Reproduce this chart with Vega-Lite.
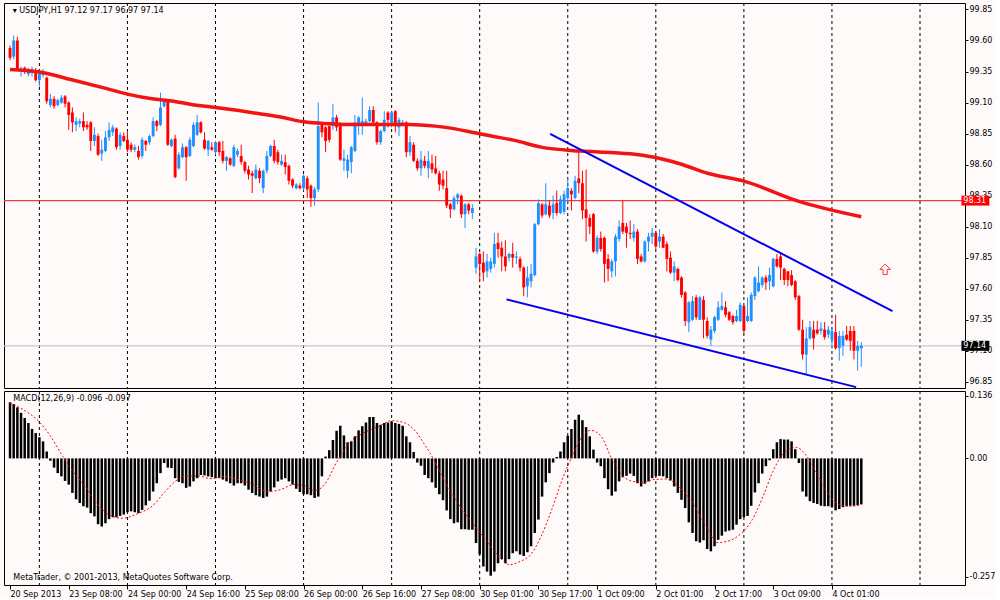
{
"$schema":"https://vega.github.io/schema/vega-lite/v6.json",
"background":"#fffafa",
"padding":{"left":2,"top":2,"right":0,"bottom":0},
"spacing":3,
"bounds":"flush",
"config":{"view":{"stroke":"#000000","strokeWidth":1,"fill":"#fffafa"},"axis":{"labelFont":"DejaVu Sans","labelFontSize":8,"labelColor":"#000000","tickColor":"#000000","domain":false,"grid":false,"title":null},"text":{"font":"DejaVu Sans"}},
"datasets":{
"grid":[{"i":8},{"i":32},{"i":56},{"i":80},{"i":104},{"i":128},{"i":152},{"i":176},{"i":200},{"i":224},{"i":248}],
"levels":[{"kind":"level","p":98.31,"t":"98.31"},{"kind":"bid","p":97.14,"t":"97.14"}],
"trend":[{"line":"u","i":147.2,"p":98.848},{"line":"u","i":240.5,"p":97.42},{"line":"l","i":135.3,"p":97.514},{"line":"l","i":230.6,"p":96.807}],
"arrow":[{"i":238.5,"p":97.756}],
"ma":[{"i":0,"p":99.367},{"i":7.65,"p":99.348},{"i":17.1,"p":99.281},{"i":26.1,"p":99.214},{"i":32.3,"p":99.166},{"i":38.7,"p":99.13},{"i":44.1,"p":99.112},{"i":49.4,"p":99.085},{"i":56.5,"p":99.058},{"i":61.9,"p":99.037},{"i":67.3,"p":99.013},{"i":73.7,"p":98.983},{"i":80,"p":98.945},{"i":87.6,"p":98.929},{"i":90.8,"p":98.924},{"i":108.8,"p":98.924},{"i":115.9,"p":98.91},{"i":120.5,"p":98.892},{"i":126.7,"p":98.856},{"i":131.2,"p":98.83},{"i":137.5,"p":98.795},{"i":144.7,"p":98.741},{"i":155.5,"p":98.709},{"i":169,"p":98.687},{"i":175.2,"p":98.661},{"i":182.5,"p":98.607},{"i":190.6,"p":98.526},{"i":200,"p":98.467},{"i":214.8,"p":98.306},{"i":232,"p":98.18}],
"candles":[
{"i":0,"o":99.54,"h":99.56,"l":99.44,"c":99.46},{"i":1,"o":99.47,"h":99.64,"l":99.45,"c":99.6},{"i":2,"o":99.6,"h":99.63,"l":99.36,"c":99.37},{"i":3,"o":99.36,"h":99.39,"l":99.31,"c":99.37},{"i":4,"o":99.38,"h":99.39,"l":99.33,"c":99.35},{"i":5,"o":99.33,"h":99.38,"l":99.31,"c":99.36},{"i":6,"o":99.34,"h":99.39,"l":99.31,"c":99.37},{"i":7,"o":99.36,"h":99.38,"l":99.27,"c":99.28},{"i":8,"o":99.28,"h":99.36,"l":99.23,"c":99.34},{"i":9,"o":99.32,"h":99.37,"l":99.3,"c":99.35},
{"i":10,"o":99.3,"h":99.31,"l":99.09,"c":99.11},{"i":11,"o":99.08,"h":99.17,"l":99.06,"c":99.13},{"i":12,"o":99.13,"h":99.15,"l":99.05,"c":99.07},{"i":13,"o":99.08,"h":99.13,"l":99.07,"c":99.12},{"i":14,"o":99.1,"h":99.16,"l":99.09,"c":99.14},{"i":15,"o":99.15,"h":99.16,"l":99.06,"c":99.09},{"i":16,"o":99.1,"h":99.11,"l":98.88,"c":99},{"i":17,"o":99.02,"h":99.06,"l":98.86,"c":98.94},{"i":18,"o":98.92,"h":98.98,"l":98.87,"c":98.95},{"i":19,"o":98.93,"h":98.97,"l":98.9,"c":98.95},
{"i":20,"o":98.95,"h":99.02,"l":98.87,"c":98.9},{"i":21,"o":98.92,"h":98.95,"l":98.88,"c":98.9},{"i":22,"o":98.94,"h":98.95,"l":98.71,"c":98.79},{"i":23,"o":98.79,"h":98.9,"l":98.75,"c":98.84},{"i":24,"o":98.83,"h":98.85,"l":98.67,"c":98.68},{"i":25,"o":98.69,"h":98.8,"l":98.63,"c":98.72},{"i":26,"o":98.71,"h":98.87,"l":98.7,"c":98.82},{"i":27,"o":98.82,"h":98.94,"l":98.79,"c":98.88},{"i":28,"o":98.86,"h":98.92,"l":98.83,"c":98.9},{"i":29,"o":98.89,"h":98.9,"l":98.72,"c":98.74},
{"i":30,"o":98.75,"h":98.86,"l":98.72,"c":98.84},{"i":31,"o":98.83,"h":98.86,"l":98.78,"c":98.79},{"i":32,"o":98.8,"h":98.87,"l":98.7,"c":98.72},{"i":33,"o":98.76,"h":98.78,"l":98.7,"c":98.72},{"i":34,"o":98.72,"h":98.76,"l":98.7,"c":98.74},{"i":35,"o":98.71,"h":98.75,"l":98.64,"c":98.66},{"i":36,"o":98.67,"h":98.82,"l":98.65,"c":98.8},{"i":37,"o":98.79,"h":98.8,"l":98.71,"c":98.76},{"i":38,"o":98.78,"h":98.84,"l":98.76,"c":98.83},{"i":39,"o":98.83,"h":98.98,"l":98.82,"c":98.95},
{"i":40,"o":98.95,"h":98.96,"l":98.87,"c":98.91},{"i":41,"o":98.92,"h":99.18,"l":98.91,"c":99.06},{"i":42,"o":99.07,"h":99.13,"l":99.06,"c":99.11},{"i":43,"o":99.11,"h":99.12,"l":98.75,"c":98.76},{"i":44,"o":98.75,"h":98.81,"l":98.74,"c":98.8},{"i":45,"o":98.81,"h":98.84,"l":98.49,"c":98.5},{"i":46,"o":98.57,"h":98.7,"l":98.56,"c":98.68},{"i":47,"o":98.66,"h":98.77,"l":98.65,"c":98.74},{"i":48,"o":98.74,"h":98.75,"l":98.47,"c":98.66},{"i":49,"o":98.67,"h":98.82,"l":98.66,"c":98.8},
{"i":50,"o":98.75,"h":98.94,"l":98.74,"c":98.92},{"i":51,"o":98.84,"h":99,"l":98.83,"c":98.94},{"i":52,"o":98.94,"h":98.95,"l":98.85,"c":98.86},{"i":53,"o":98.8,"h":98.86,"l":98.72,"c":98.73},{"i":54,"o":98.72,"h":98.8,"l":98.67,"c":98.79},{"i":55,"o":98.74,"h":98.78,"l":98.71,"c":98.72},{"i":56,"o":98.7,"h":98.79,"l":98.68,"c":98.78},{"i":57,"o":98.78,"h":98.79,"l":98.67,"c":98.7},{"i":58,"o":98.71,"h":98.79,"l":98.61,"c":98.63},{"i":59,"o":98.63,"h":98.67,"l":98.55,"c":98.66},
{"i":60,"o":98.65,"h":98.66,"l":98.59,"c":98.6},{"i":61,"o":98.59,"h":98.76,"l":98.58,"c":98.74},{"i":62,"o":98.68,"h":98.73,"l":98.66,"c":98.71},{"i":63,"o":98.67,"h":98.76,"l":98.6,"c":98.62},{"i":64,"o":98.62,"h":98.63,"l":98.53,"c":98.55},{"i":65,"o":98.56,"h":98.59,"l":98.48,"c":98.52},{"i":66,"o":98.53,"h":98.55,"l":98.37,"c":98.51},{"i":67,"o":98.49,"h":98.6,"l":98.48,"c":98.56},{"i":68,"o":98.55,"h":98.57,"l":98.45,"c":98.49},{"i":69,"o":98.41,"h":98.56,"l":98.37,"c":98.55},
{"i":70,"o":98.55,"h":98.71,"l":98.53,"c":98.67},{"i":71,"o":98.67,"h":98.76,"l":98.66,"c":98.75},{"i":72,"o":98.75,"h":98.8,"l":98.61,"c":98.63},{"i":73,"o":98.7,"h":98.72,"l":98.6,"c":98.62},{"i":74,"o":98.6,"h":98.68,"l":98.59,"c":98.63},{"i":75,"o":98.62,"h":98.68,"l":98.52,"c":98.58},{"i":76,"o":98.59,"h":98.6,"l":98.44,"c":98.47},{"i":77,"o":98.48,"h":98.49,"l":98.41,"c":98.43},{"i":78,"o":98.41,"h":98.45,"l":98.4,"c":98.44},{"i":79,"o":98.43,"h":98.45,"l":98.4,"c":98.41},
{"i":80,"o":98.41,"h":98.52,"l":98.39,"c":98.51},{"i":81,"o":98.49,"h":98.51,"l":98.33,"c":98.4},{"i":82,"o":98.43,"h":98.44,"l":98.26,"c":98.33},{"i":83,"o":98.33,"h":98.42,"l":98.27,"c":98.4},{"i":84,"o":98.4,"h":99.1,"l":98.38,"c":98.91},{"i":85,"o":98.92,"h":98.94,"l":98.82,"c":98.86},{"i":86,"o":98.9,"h":98.91,"l":98.7,"c":98.79},{"i":87,"o":98.91,"h":98.92,"l":98.78,"c":98.8},{"i":88,"o":98.91,"h":99.09,"l":98.88,"c":98.98},{"i":89,"o":98.98,"h":99,"l":98.87,"c":98.9},
{"i":90,"o":98.92,"h":98.94,"l":98.63,"c":98.64},{"i":91,"o":98.63,"h":98.72,"l":98.55,"c":98.65},{"i":92,"o":98.55,"h":98.68,"l":98.49,"c":98.64},{"i":93,"o":98.62,"h":98.75,"l":98.53,"c":98.74},{"i":94,"o":98.71,"h":99,"l":98.7,"c":98.94},{"i":95,"o":98.92,"h":98.99,"l":98.84,"c":98.98},{"i":96,"o":98.91,"h":99.14,"l":98.84,"c":98.95},{"i":97,"o":98.93,"h":98.97,"l":98.91,"c":98.95},{"i":98,"o":98.95,"h":99.07,"l":98.94,"c":99.04},{"i":99,"o":99.04,"h":99.07,"l":98.92,"c":98.94},
{"i":100,"o":98.94,"h":98.95,"l":98.76,"c":98.78},{"i":101,"o":98.78,"h":98.88,"l":98.76,"c":98.87},{"i":102,"o":98.87,"h":99.03,"l":98.86,"c":98.96},{"i":103,"o":99.02,"h":99.03,"l":98.9,"c":98.96},{"i":104,"o":98.92,"h":99.03,"l":98.9,"c":99.02},{"i":105,"o":99.03,"h":99.04,"l":98.86,"c":98.91},{"i":106,"o":98.9,"h":98.98,"l":98.83,"c":98.96},{"i":107,"o":98.93,"h":98.96,"l":98.91,"c":98.94},{"i":108,"o":98.94,"h":98.95,"l":98.66,"c":98.7},{"i":109,"o":98.7,"h":98.83,"l":98.67,"c":98.78},
{"i":110,"o":98.76,"h":98.78,"l":98.62,"c":98.63},{"i":111,"o":98.63,"h":98.65,"l":98.55,"c":98.57},{"i":112,"o":98.57,"h":98.71,"l":98.51,"c":98.64},{"i":113,"o":98.63,"h":98.67,"l":98.57,"c":98.59},{"i":114,"o":98.57,"h":98.71,"l":98.49,"c":98.63},{"i":115,"o":98.61,"h":98.68,"l":98.53,"c":98.56},{"i":116,"o":98.57,"h":98.67,"l":98.52,"c":98.53},{"i":117,"o":98.53,"h":98.55,"l":98.39,"c":98.44},{"i":118,"o":98.48,"h":98.55,"l":98.4,"c":98.43},{"i":119,"o":98.41,"h":98.55,"l":98.25,"c":98.27},
{"i":120,"o":98.28,"h":98.29,"l":98.17,"c":98.24},{"i":121,"o":98.24,"h":98.35,"l":98.23,"c":98.33},{"i":122,"o":98.33,"h":98.37,"l":98.28,"c":98.36},{"i":123,"o":98.35,"h":98.36,"l":98.17,"c":98.2},{"i":124,"o":98.2,"h":98.29,"l":98.09,"c":98.28},{"i":125,"o":98.28,"h":98.29,"l":98.2,"c":98.23},{"i":126,"o":98.21,"h":98.28,"l":98.16,"c":98.25},{"i":127,"o":97.77,"h":97.93,"l":97.72,"c":97.86},{"i":128,"o":97.88,"h":97.89,"l":97.66,"c":97.8},{"i":129,"o":97.81,"h":97.9,"l":97.66,"c":97.73},
{"i":130,"o":97.74,"h":97.88,"l":97.69,"c":97.82},{"i":131,"o":97.76,"h":97.85,"l":97.73,"c":97.82},{"i":132,"o":97.8,"h":98.05,"l":97.77,"c":97.96},{"i":133,"o":97.97,"h":98.05,"l":97.85,"c":97.92},{"i":134,"o":97.93,"h":97.98,"l":97.74,"c":97.86},{"i":135,"o":97.86,"h":97.99,"l":97.74,"c":97.78},{"i":136,"o":97.85,"h":97.89,"l":97.82,"c":97.88},{"i":137,"o":97.88,"h":97.97,"l":97.77,"c":97.85},{"i":138,"o":97.85,"h":97.9,"l":97.8,"c":97.86},{"i":139,"o":97.84,"h":97.86,"l":97.74,"c":97.77},
{"i":140,"o":97.77,"h":97.78,"l":97.54,"c":97.61},{"i":141,"o":97.62,"h":97.78,"l":97.53,"c":97.69},{"i":142,"o":97.66,"h":97.8,"l":97.61,"c":97.72},{"i":143,"o":97.71,"h":98.13,"l":97.7,"c":98.12},{"i":144,"o":98.12,"h":98.32,"l":98.11,"c":98.29},{"i":145,"o":98.28,"h":98.29,"l":98.17,"c":98.19},{"i":146,"o":98.2,"h":98.45,"l":98.19,"c":98.28},{"i":147,"o":98.27,"h":98.31,"l":98.17,"c":98.19},{"i":148,"o":98.21,"h":98.35,"l":98.16,"c":98.28},{"i":149,"o":98.29,"h":98.39,"l":98.19,"c":98.21},
{"i":150,"o":98.21,"h":98.35,"l":98.2,"c":98.32},{"i":151,"o":98.22,"h":98.39,"l":98.2,"c":98.36},{"i":152,"o":98.33,"h":98.49,"l":98.29,"c":98.41},{"i":153,"o":98.39,"h":98.41,"l":98.23,"c":98.36},{"i":154,"o":98.33,"h":98.51,"l":98.32,"c":98.47},{"i":155,"o":98.49,"h":98.72,"l":98.37,"c":98.45},{"i":156,"o":98.45,"h":98.55,"l":98.16,"c":98.23},{"i":157,"o":98.24,"h":98.56,"l":97.98,"c":98.17},{"i":158,"o":98.17,"h":98.2,"l":98.04,"c":98.1},{"i":159,"o":98.2,"h":98.21,"l":97.89,"c":97.9},
{"i":160,"o":97.9,"h":98.03,"l":97.88,"c":98.01},{"i":161,"o":98.01,"h":98.06,"l":97.9,"c":97.92},{"i":162,"o":98.01,"h":98.02,"l":97.65,"c":97.8},{"i":163,"o":97.84,"h":97.88,"l":97.66,"c":97.76},{"i":164,"o":97.74,"h":97.84,"l":97.69,"c":97.82},{"i":165,"o":97.82,"h":98.04,"l":97.7,"c":98.02},{"i":166,"o":98,"h":98.15,"l":97.98,"c":98.1},{"i":167,"o":98.13,"h":98.31,"l":98.04,"c":98.06},{"i":168,"o":98.1,"h":98.13,"l":97.93,"c":98.05},{"i":169,"o":98.05,"h":98.15,"l":98,"c":98.04},
{"i":170,"o":98.01,"h":98.12,"l":97.98,"c":98.06},{"i":171,"o":98.06,"h":98.08,"l":97.8,"c":97.84},{"i":172,"o":97.86,"h":97.88,"l":97.81,"c":97.82},{"i":173,"o":97.82,"h":97.99,"l":97.81,"c":97.98},{"i":174,"o":97.98,"h":98.05,"l":97.9,"c":98.02},{"i":175,"o":98.02,"h":98.09,"l":97.96,"c":98.05},{"i":176,"o":98.05,"h":98.06,"l":97.92,"c":97.94},{"i":177,"o":97.98,"h":98.08,"l":97.93,"c":98.02},{"i":178,"o":98.02,"h":98.04,"l":97.93,"c":97.93},{"i":179,"o":97.96,"h":97.98,"l":97.74,"c":97.84},
{"i":180,"o":97.85,"h":97.9,"l":97.72,"c":97.73},{"i":181,"o":97.73,"h":97.82,"l":97.66,"c":97.78},{"i":182,"o":97.76,"h":97.77,"l":97.66,"c":97.67},{"i":183,"o":97.69,"h":97.7,"l":97.53,"c":97.55},{"i":184,"o":97.57,"h":97.58,"l":97.3,"c":97.34},{"i":185,"o":97.33,"h":97.5,"l":97.25,"c":97.49},{"i":186,"o":97.35,"h":97.54,"l":97.34,"c":97.5},{"i":187,"o":97.53,"h":97.55,"l":97.35,"c":97.37},{"i":188,"o":97.35,"h":97.54,"l":97.35,"c":97.53},{"i":189,"o":97.51,"h":97.54,"l":97.2,"c":97.35},
{"i":190,"o":97.34,"h":97.37,"l":97.2,"c":97.22},{"i":191,"o":97.19,"h":97.3,"l":97.14,"c":97.27},{"i":192,"o":97.26,"h":97.38,"l":97.24,"c":97.37},{"i":193,"o":97.35,"h":97.5,"l":97.34,"c":97.45},{"i":194,"o":97.43,"h":97.57,"l":97.42,"c":97.46},{"i":195,"o":97.45,"h":97.5,"l":97.37,"c":97.39},{"i":196,"o":97.41,"h":97.42,"l":97.34,"c":97.35},{"i":197,"o":97.38,"h":97.39,"l":97.31,"c":97.33},{"i":198,"o":97.34,"h":97.43,"l":97.33,"c":97.38},{"i":199,"o":97.34,"h":97.49,"l":97.33,"c":97.47},
{"i":200,"o":97.46,"h":97.47,"l":97.24,"c":97.26},{"i":201,"o":97.34,"h":97.53,"l":97.33,"c":97.38},{"i":202,"o":97.34,"h":97.57,"l":97.33,"c":97.55},{"i":203,"o":97.54,"h":97.7,"l":97.51,"c":97.69},{"i":204,"o":97.58,"h":97.78,"l":97.57,"c":97.65},{"i":205,"o":97.63,"h":97.7,"l":97.61,"c":97.69},{"i":206,"o":97.69,"h":97.71,"l":97.59,"c":97.65},{"i":207,"o":97.66,"h":97.77,"l":97.59,"c":97.71},{"i":208,"o":97.62,"h":97.85,"l":97.61,"c":97.84},{"i":209,"o":97.84,"h":97.88,"l":97.77,"c":97.78},
{"i":210,"o":97.86,"h":97.88,"l":97.67,"c":97.77},{"i":211,"o":97.76,"h":97.77,"l":97.63,"c":97.67},{"i":212,"o":97.74,"h":97.74,"l":97.62,"c":97.67},{"i":213,"o":97.71,"h":97.75,"l":97.62,"c":97.63},{"i":214,"o":97.66,"h":97.67,"l":97.51,"c":97.53},{"i":215,"o":97.54,"h":97.55,"l":97.26,"c":97.27},{"i":216,"o":97.27,"h":97.35,"l":97.03,"c":97.07},{"i":217,"o":97.07,"h":97.29,"l":96.91,"c":97.2},{"i":218,"o":97.2,"h":97.34,"l":97.19,"c":97.29},{"i":219,"o":97.27,"h":97.34,"l":97.11,"c":97.2},
{"i":220,"o":97.27,"h":97.34,"l":97.23,"c":97.24},{"i":221,"o":97.26,"h":97.33,"l":97.23,"c":97.28},{"i":222,"o":97.27,"h":97.33,"l":97.19,"c":97.21},{"i":223,"o":97.23,"h":97.3,"l":97.2,"c":97.27},{"i":224,"o":97.19,"h":97.29,"l":97.12,"c":97.26},{"i":225,"o":97.25,"h":97.39,"l":97.11,"c":97.12},{"i":226,"o":97.12,"h":97.26,"l":97.02,"c":97.22},{"i":227,"o":97.14,"h":97.26,"l":97.06,"c":97.22},{"i":228,"o":97.23,"h":97.3,"l":97.18,"c":97.19},{"i":229,"o":97.26,"h":97.3,"l":97.1,"c":97.18},
{"i":230,"o":97.26,"h":97.3,"l":97.03,"c":97.1},{"i":231,"o":97.1,"h":97.18,"l":96.94,"c":97.14},{"i":232,"o":97.12,"h":97.17,"l":96.97,"c":97.14}
],
"macd":[
{"i":0,"m":0.122},{"i":1,"m":0.118},{"i":2,"m":0.111},{"i":3,"m":0.099},{"i":4,"m":0.088},{"i":5,"m":0.077},{"i":6,"m":0.064},{"i":7,"m":0.055},{"i":8,"m":0.046},{"i":9,"m":0.037},
{"i":10,"m":0.015},{"i":11,"m":-0.005},{"i":12,"m":-0.02},{"i":13,"m":-0.032},{"i":14,"m":-0.039},{"i":15,"m":-0.049},{"i":16,"m":-0.057},{"i":17,"m":-0.075},{"i":18,"m":-0.089},{"i":19,"m":-0.097},
{"i":20,"m":-0.104},{"i":21,"m":-0.107},{"i":22,"m":-0.119},{"i":23,"m":-0.126},{"i":24,"m":-0.143},{"i":25,"m":-0.148},{"i":26,"m":-0.141},{"i":27,"m":-0.132},{"i":28,"m":-0.128},{"i":29,"m":-0.128},
{"i":30,"m":-0.125},{"i":31,"m":-0.122},{"i":32,"m":-0.117},{"i":33,"m":-0.115},{"i":34,"m":-0.117},{"i":35,"m":-0.119},{"i":36,"m":-0.112},{"i":37,"m":-0.102},{"i":38,"m":-0.092},{"i":39,"m":-0.072},
{"i":40,"m":-0.054},{"i":41,"m":-0.032},{"i":42,"m":-0.01},{"i":43,"m":-0.02},{"i":44,"m":-0.021},{"i":45,"m":-0.043},{"i":46,"m":-0.051},{"i":47,"m":-0.054},{"i":48,"m":-0.064},{"i":49,"m":-0.061},
{"i":50,"m":-0.05},{"i":51,"m":-0.043},{"i":52,"m":-0.036},{"i":53,"m":-0.037},{"i":54,"m":-0.039},{"i":55,"m":-0.041},{"i":56,"m":-0.043},{"i":57,"m":-0.043},{"i":58,"m":-0.046},{"i":59,"m":-0.05},
{"i":60,"m":-0.054},{"i":61,"m":-0.059},{"i":62,"m":-0.054},{"i":63,"m":-0.054},{"i":64,"m":-0.059},{"i":65,"m":-0.068},{"i":66,"m":-0.075},{"i":67,"m":-0.08},{"i":68,"m":-0.083},{"i":69,"m":-0.086},
{"i":70,"m":-0.083},{"i":71,"m":-0.072},{"i":72,"m":-0.063},{"i":73,"m":-0.05},{"i":74,"m":-0.046},{"i":75,"m":-0.043},{"i":76,"m":-0.05},{"i":77,"m":-0.057},{"i":78,"m":-0.066},{"i":79,"m":-0.073},
{"i":80,"m":-0.078},{"i":81,"m":-0.078},{"i":82,"m":-0.08},{"i":83,"m":-0.086},{"i":84,"m":-0.083},{"i":85,"m":-0.039},{"i":86,"m":0.004},{"i":87,"m":0.018},{"i":88,"m":0.04},{"i":89,"m":0.06},
{"i":90,"m":0.071},{"i":91,"m":0.05},{"i":92,"m":0.035},{"i":93,"m":0.037},{"i":94,"m":0.048},{"i":95,"m":0.061},{"i":96,"m":0.07},{"i":97,"m":0.078},{"i":98,"m":0.09},{"i":99,"m":0.09},
{"i":100,"m":0.077},{"i":101,"m":0.073},{"i":102,"m":0.077},{"i":103,"m":0.078},{"i":104,"m":0.08},{"i":105,"m":0.077},{"i":106,"m":0.075},{"i":107,"m":0.071},{"i":108,"m":0.048},{"i":109,"m":0.035},
{"i":110,"m":0.014},{"i":111,"m":-0.009},{"i":112,"m":-0.016},{"i":113,"m":-0.036},{"i":114,"m":-0.043},{"i":115,"m":-0.052},{"i":116,"m":-0.064},{"i":117,"m":-0.078},{"i":118,"m":-0.091},{"i":119,"m":-0.113},
{"i":120,"m":-0.132},{"i":121,"m":-0.141},{"i":122,"m":-0.139},{"i":123,"m":-0.154},{"i":124,"m":-0.154},{"i":125,"m":-0.155},{"i":126,"m":-0.155},{"i":127,"m":-0.184},{"i":128,"m":-0.209},{"i":129,"m":-0.235},
{"i":130,"m":-0.246},{"i":131,"m":-0.255},{"i":132,"m":-0.246},{"i":133,"m":-0.228},{"i":134,"m":-0.219},{"i":135,"m":-0.228},{"i":136,"m":-0.219},{"i":137,"m":-0.206},{"i":138,"m":-0.202},{"i":139,"m":-0.209},
{"i":140,"m":-0.212},{"i":141,"m":-0.204},{"i":142,"m":-0.191},{"i":143,"m":-0.162},{"i":144,"m":-0.133},{"i":145,"m":-0.083},{"i":146,"m":-0.052},{"i":147,"m":-0.032},{"i":148,"m":-0.009},{"i":149,"m":0.003},
{"i":150,"m":0.015},{"i":151,"m":0.035},{"i":152,"m":0.049},{"i":153,"m":0.064},{"i":154,"m":0.084},{"i":155,"m":0.095},{"i":156,"m":0.083},{"i":157,"m":0.068},{"i":158,"m":0.048},{"i":159,"m":0.019},
{"i":160,"m":-0.009},{"i":161,"m":-0.017},{"i":162,"m":-0.043},{"i":163,"m":-0.067},{"i":164,"m":-0.081},{"i":165,"m":-0.072},{"i":166,"m":-0.05},{"i":167,"m":-0.041},{"i":168,"m":-0.038},{"i":169,"m":-0.033},
{"i":170,"m":-0.038},{"i":171,"m":-0.054},{"i":172,"m":-0.061},{"i":173,"m":-0.055},{"i":174,"m":-0.05},{"i":175,"m":-0.043},{"i":176,"m":-0.039},{"i":177,"m":-0.038},{"i":178,"m":-0.039},{"i":179,"m":-0.043},
{"i":180,"m":-0.048},{"i":181,"m":-0.061},{"i":182,"m":-0.075},{"i":183,"m":-0.09},{"i":184,"m":-0.108},{"i":185,"m":-0.139},{"i":186,"m":-0.162},{"i":187,"m":-0.18},{"i":188,"m":-0.183},{"i":189,"m":-0.178},
{"i":190,"m":-0.197},{"i":191,"m":-0.202},{"i":192,"m":-0.191},{"i":193,"m":-0.177},{"i":194,"m":-0.168},{"i":195,"m":-0.159},{"i":196,"m":-0.157},{"i":197,"m":-0.155},{"i":198,"m":-0.144},{"i":199,"m":-0.132},
{"i":200,"m":-0.128},{"i":201,"m":-0.125},{"i":202,"m":-0.103},{"i":203,"m":-0.074},{"i":204,"m":-0.054},{"i":205,"m":-0.033},{"i":206,"m":-0.017},{"i":207,"m":-0.004},{"i":208,"m":0.02},{"i":209,"m":0.035},
{"i":210,"m":0.042},{"i":211,"m":0.041},{"i":212,"m":0.041},{"i":213,"m":0.037},{"i":214,"m":0.02},{"i":215,"m":-0.01},{"i":216,"m":-0.072},{"i":217,"m":-0.083},{"i":218,"m":-0.093},{"i":219,"m":-0.097},
{"i":220,"m":-0.099},{"i":221,"m":-0.103},{"i":222,"m":-0.104},{"i":223,"m":-0.104},{"i":224,"m":-0.106},{"i":225,"m":-0.113},{"i":226,"m":-0.11},{"i":227,"m":-0.106},{"i":228,"m":-0.104},{"i":229,"m":-0.103},
{"i":230,"m":-0.103},{"i":231,"m":-0.102},{"i":232,"m":-0.1}
],
"signal":[{"i":0,"s":0.12},{"i":3.6,"s":0.106},{"i":7.9,"s":0.08},{"i":10.8,"s":0.051},{"i":14.4,"s":0.004},{"i":17.1,"s":-0.028},{"i":20.7,"s":-0.064},{"i":24.3,"s":-0.104},{"i":27.9,"s":-0.126},{"i":30.6,"s":-0.13},{"i":35.1,"s":-0.119},{"i":38.7,"s":-0.104},{"i":42.3,"s":-0.072},{"i":45,"s":-0.05},{"i":47.6,"s":-0.039},{"i":51.2,"s":-0.038},{"i":54.8,"s":-0.044},{"i":58.4,"s":-0.039},{"i":62,"s":-0.046},{"i":65.6,"s":-0.054},{"i":70.1,"s":-0.072},{"i":73.7,"s":-0.068},{"i":77.3,"s":-0.057},{"i":80,"s":-0.059},{"i":83.1,"s":-0.07},{"i":85.7,"s":-0.057},{"i":89.1,"s":-0.007},{"i":92.9,"s":0.037},{"i":96.8,"s":0.057},{"i":100.6,"s":0.07},{"i":104,"s":0.082},{"i":107.3,"s":0.078},{"i":110.2,"s":0.062},{"i":113,"s":0.03},{"i":116,"s":-0.01},{"i":118.3,"s":-0.046},{"i":121.7,"s":-0.093},{"i":124.6,"s":-0.126},{"i":127.5,"s":-0.155},{"i":130.3,"s":-0.184},{"i":133.2,"s":-0.213},{"i":136.1,"s":-0.231},{"i":139,"s":-0.224},{"i":141.9,"s":-0.209},{"i":144.7,"s":-0.17},{"i":147.6,"s":-0.112},{"i":150.5,"s":-0.046},{"i":153.4,"s":0.008},{"i":156.3,"s":0.051},{"i":158.2,"s":0.061},{"i":161.1,"s":0.048},{"i":163.9,"s":0.001},{"i":166.8,"s":-0.036},{"i":169.7,"s":-0.05},{"i":172.6,"s":-0.052},{"i":175.5,"s":-0.046},{"i":178.8,"s":-0.045},{"i":182.2,"s":-0.061},{"i":186,"s":-0.097},{"i":189.8,"s":-0.148},{"i":192.7,"s":-0.183},{"i":195.6,"s":-0.18},{"i":199.4,"s":-0.162},{"i":202.3,"s":-0.133},{"i":205.2,"s":-0.083},{"i":208.1,"s":-0.025},{"i":211,"s":0.012},{"i":214.3,"s":0.024},{"i":217.2,"s":0.004},{"i":220.6,"s":-0.043},{"i":223.4,"s":-0.083},{"i":226.3,"s":-0.101},{"i":229.2,"s":-0.104},{"i":232,"s":-0.1}]
},
"vconcat":[
{
"width":961,"height":385,
"layer":[
{"data":{"name":"grid"},"mark":{"type":"rule","color":"#000000","strokeDash":[3,3],"strokeWidth":1},
 "encoding":{"x":{"field":"i","type":"quantitative","scale":{"domain":[-0.28,258.9],"nice":false,"zero":false},"axis":null}}},
{"data":{"name":"levels"},"mark":{"type":"rule","strokeWidth":1.2},
 "encoding":{"y":{"field":"p","type":"quantitative","scale":{"domain":[96.8,99.902],"nice":false,"zero":false},
   "axis":{"orient":"right","values":[99.85,99.6,99.35,99.1,98.85,98.6,98.35,98.1,97.85,97.6,97.35,97.1,96.85],"format":".2f","tickSize":3,"labelPadding":1,"title":null,"labelOverlap":false,"labelFlush":false}},
  "color":{"field":"kind","type":"nominal","scale":{"domain":["level","bid"],"range":["#f03c3c","#c8c8c8"]},"legend":null}}},
{"data":{"name":"candles"},"mark":{"type":"rule","strokeWidth":1},
 "encoding":{"x":{"field":"i","type":"quantitative","scale":{"domain":[-0.28,258.9],"nice":false,"zero":false},"axis":null},
  "y":{"field":"l","type":"quantitative","scale":{"domain":[96.8,99.902],"nice":false,"zero":false},
   "axis":{"orient":"right","values":[99.85,99.6,99.35,99.1,98.85,98.6,98.35,98.1,97.85,97.6,97.35,97.1,96.85],"format":".2f","tickSize":3,"labelPadding":1,"title":null,"labelOverlap":false,"labelFlush":false}},
  "y2":{"field":"h"},
  "color":{"condition":{"test":"datum.c >= datum.o","value":"#1e90ff"},"value":"#ff0000"}}},
{"data":{"name":"candles"},"mark":{"type":"bar","width":2.9},
 "encoding":{"x":{"field":"i","type":"quantitative","scale":{"domain":[-0.28,258.9],"nice":false,"zero":false},"axis":null},
  "y":{"field":"o","type":"quantitative","scale":{"domain":[96.8,99.902],"nice":false,"zero":false},
   "axis":{"orient":"right","values":[99.85,99.6,99.35,99.1,98.85,98.6,98.35,98.1,97.85,97.6,97.35,97.1,96.85],"format":".2f","tickSize":3,"labelPadding":1,"title":null,"labelOverlap":false,"labelFlush":false}},
  "y2":{"field":"c"},
  "color":{"condition":{"test":"datum.c >= datum.o","value":"#1e90ff"},"value":"#ff0000"}}},
{"data":{"name":"ma"},"mark":{"type":"line","color":"#f01414","strokeWidth":3.5,"interpolate":"monotone"},
 "encoding":{"x":{"field":"i","type":"quantitative","scale":{"domain":[-0.28,258.9],"nice":false,"zero":false},"axis":null},
  "y":{"field":"p","type":"quantitative","scale":{"domain":[96.8,99.902],"nice":false,"zero":false},
   "axis":{"orient":"right","values":[99.85,99.6,99.35,99.1,98.85,98.6,98.35,98.1,97.85,97.6,97.35,97.1,96.85],"format":".2f","tickSize":3,"labelPadding":1,"title":null,"labelOverlap":false,"labelFlush":false}}}},
{"data":{"name":"trend"},"mark":{"type":"line","color":"#0000ee","strokeWidth":2},
 "encoding":{"x":{"field":"i","type":"quantitative","scale":{"domain":[-0.28,258.9],"nice":false,"zero":false},"axis":null},
  "y":{"field":"p","type":"quantitative","scale":{"domain":[96.8,99.902],"nice":false,"zero":false},
   "axis":{"orient":"right","values":[99.85,99.6,99.35,99.1,98.85,98.6,98.35,98.1,97.85,97.6,97.35,97.1,96.85],"format":".2f","tickSize":3,"labelPadding":1,"title":null,"labelOverlap":false,"labelFlush":false}},
  "detail":{"field":"line"}}},
{"data":{"name":"levels"},"mark":{"type":"rule","strokeWidth":10,"strokeCap":"butt"},
 "encoding":{"x":{"datum":259.3,"type":"quantitative","scale":{"domain":[-0.28,258.9],"nice":false,"zero":false},"axis":null},
  "x2":{"datum":266.9},
  "y":{"field":"p","type":"quantitative","scale":{"domain":[96.8,99.902],"nice":false,"zero":false},
   "axis":{"orient":"right","values":[99.85,99.6,99.35,99.1,98.85,98.6,98.35,98.1,97.85,97.6,97.35,97.1,96.85],"format":".2f","tickSize":3,"labelPadding":1,"title":null,"labelOverlap":false,"labelFlush":false}},
  "stroke":{"field":"kind","type":"nominal","scale":{"domain":["level","bid"],"range":["#ff0000","#000000"]},"legend":null}}},
{"data":{"name":"levels"},"mark":{"type":"text","align":"left","baseline":"middle","color":"#ffffff","fontSize":8},
 "encoding":{"x":{"datum":259.8,"type":"quantitative","scale":{"domain":[-0.28,258.9],"nice":false,"zero":false},"axis":null},
  "y":{"field":"p","type":"quantitative","scale":{"domain":[96.8,99.902],"nice":false,"zero":false},
   "axis":{"orient":"right","values":[99.85,99.6,99.35,99.1,98.85,98.6,98.35,98.1,97.85,97.6,97.35,97.1,96.85],"format":".2f","tickSize":3,"labelPadding":1,"title":null,"labelOverlap":false,"labelFlush":false}},
  "text":{"field":"t"}}},
{"data":{"name":"arrow"},"mark":{"type":"point","shape":"M0,-1L1,0H0.4V1H-0.4V0H-1Z","filled":false,"stroke":"#ff3030","strokeWidth":1,"size":110,"opacity":1},
 "encoding":{"x":{"field":"i","type":"quantitative","scale":{"domain":[-0.28,258.9],"nice":false,"zero":false},"axis":null},
  "y":{"field":"p","type":"quantitative","scale":{"domain":[96.8,99.902],"nice":false,"zero":false},
   "axis":{"orient":"right","values":[99.85,99.6,99.35,99.1,98.85,98.6,98.35,98.1,97.85,97.6,97.35,97.1,96.85],"format":".2f","tickSize":3,"labelPadding":1,"title":null,"labelOverlap":false,"labelFlush":false}}}},
{"data":{"values":[{"t":"▾  USDJPY,H1  97.12 97.17 96.97 97.14"}]},"mark":{"type":"text","align":"left","baseline":"middle","color":"#000000","fontSize":8},
 "encoding":{"x":{"datum":0.72,"type":"quantitative","scale":{"domain":[-0.28,258.9],"nice":false,"zero":false},"axis":null},
  "y":{"datum":99.837,"type":"quantitative","scale":{"domain":[96.8,99.902],"nice":false,"zero":false},
   "axis":{"orient":"right","values":[99.85,99.6,99.35,99.1,98.85,98.6,98.35,98.1,97.85,97.6,97.35,97.1,96.85],"format":".2f","tickSize":3,"labelPadding":1,"title":null,"labelOverlap":false,"labelFlush":false}},
  "text":{"field":"t"}}}
]
},
{
"width":961,"height":194,
"layer":[
{"data":{"name":"grid"},"mark":{"type":"rule","color":"#000000","strokeDash":[3,3],"strokeWidth":1},
 "encoding":{"x":{"field":"i","type":"quantitative","scale":{"domain":[-0.28,258.9],"nice":false,"zero":false},
   "axis":{"orient":"bottom","values":[0,16,32,48,64,80,96,112,128,144,160,176,192,208,224],"labelExpr":"['20 Sep 2013','23 Sep 08:00','24 Sep 00:00','24 Sep 16:00','25 Sep 08:00','26 Sep 00:00','26 Sep 16:00','27 Sep 08:00','30 Sep 01:00','30 Sep 17:00','1 Oct 09:00','2 Oct 01:00','2 Oct 17:00','3 Oct 09:00','4 Oct 01:00'][round(datum.value/16)]","labelAlign":"left","labelBaseline":"top","tickSize":4,"labelPadding":1,"labelFlush":false,"labelOverlap":false,"labelBound":false,"title":null}}}},
{"data":{"name":"macd"},"mark":{"type":"bar","color":"#000000","width":2.5},
 "encoding":{"x":{"field":"i","type":"quantitative","scale":{"domain":[-0.28,258.9],"nice":false,"zero":false},
   "axis":{"orient":"bottom","values":[0,16,32,48,64,80,96,112,128,144,160,176,192,208,224],"labelExpr":"['20 Sep 2013','23 Sep 08:00','24 Sep 00:00','24 Sep 16:00','25 Sep 08:00','26 Sep 00:00','26 Sep 16:00','27 Sep 08:00','30 Sep 01:00','30 Sep 17:00','1 Oct 09:00','2 Oct 01:00','2 Oct 17:00','3 Oct 09:00','4 Oct 01:00'][round(datum.value/16)]","labelAlign":"left","labelBaseline":"top","tickSize":4,"labelPadding":1,"labelFlush":false,"labelOverlap":false,"labelBound":false,"title":null}},
  "y":{"field":"m","type":"quantitative","scale":{"domain":[-0.2752,0.1465],"nice":false},
   "axis":{"orient":"right","values":[0.136,0,-0.257],"labelExpr":"datum.value > 0.1 ? '0.136' : (datum.value < -0.1 ? '-0.257' : '0.00')","tickSize":3,"labelPadding":1,"title":null,"labelOverlap":false,"labelFlush":false}}}},
{"data":{"name":"signal"},"mark":{"type":"line","color":"#ff0000","strokeWidth":1,"strokeDash":[2,2],"interpolate":"monotone"},
 "encoding":{"x":{"field":"i","type":"quantitative","scale":{"domain":[-0.28,258.9],"nice":false,"zero":false},
   "axis":{"orient":"bottom","values":[0,16,32,48,64,80,96,112,128,144,160,176,192,208,224],"labelExpr":"['20 Sep 2013','23 Sep 08:00','24 Sep 00:00','24 Sep 16:00','25 Sep 08:00','26 Sep 00:00','26 Sep 16:00','27 Sep 08:00','30 Sep 01:00','30 Sep 17:00','1 Oct 09:00','2 Oct 01:00','2 Oct 17:00','3 Oct 09:00','4 Oct 01:00'][round(datum.value/16)]","labelAlign":"left","labelBaseline":"top","tickSize":4,"labelPadding":1,"labelFlush":false,"labelOverlap":false,"labelBound":false,"title":null}},
  "y":{"field":"s","type":"quantitative","scale":{"domain":[-0.2752,0.1465],"nice":false},
   "axis":{"orient":"right","values":[0.136,0,-0.257],"labelExpr":"datum.value > 0.1 ? '0.136' : (datum.value < -0.1 ? '-0.257' : '0.00')","tickSize":3,"labelPadding":1,"title":null,"labelOverlap":false,"labelFlush":false}}}},
{"data":{"values":[{"t":"MACD(12,26,9) -0.096 -0.097"}]},"mark":{"type":"text","align":"left","baseline":"middle","color":"#000000","fontSize":8},
 "encoding":{"x":{"datum":0.9,"type":"quantitative","scale":{"domain":[-0.28,258.9],"nice":false,"zero":false},
   "axis":{"orient":"bottom","values":[0,16,32,48,64,80,96,112,128,144,160,176,192,208,224],"labelExpr":"['20 Sep 2013','23 Sep 08:00','24 Sep 00:00','24 Sep 16:00','25 Sep 08:00','26 Sep 00:00','26 Sep 16:00','27 Sep 08:00','30 Sep 01:00','30 Sep 17:00','1 Oct 09:00','2 Oct 01:00','2 Oct 17:00','3 Oct 09:00','4 Oct 01:00'][round(datum.value/16)]","labelAlign":"left","labelBaseline":"top","tickSize":4,"labelPadding":1,"labelFlush":false,"labelOverlap":false,"labelBound":false,"title":null}},
  "y":{"datum":0.129,"type":"quantitative","scale":{"domain":[-0.2752,0.1465],"nice":false},
   "axis":{"orient":"right","values":[0.136,0,-0.257],"labelExpr":"datum.value > 0.1 ? '0.136' : (datum.value < -0.1 ? '-0.257' : '0.00')","tickSize":3,"labelPadding":1,"title":null,"labelOverlap":false,"labelFlush":false}},
  "text":{"field":"t"}}},
{"data":{"values":[{"t":"MetaTrader, © 2001-2013, MetaQuotes Software Corp."}]},"mark":{"type":"text","align":"left","baseline":"middle","color":"#000000","fontSize":8},
 "encoding":{"x":{"datum":0.9,"type":"quantitative","scale":{"domain":[-0.28,258.9],"nice":false,"zero":false},
   "axis":{"orient":"bottom","values":[0,16,32,48,64,80,96,112,128,144,160,176,192,208,224],"labelExpr":"['20 Sep 2013','23 Sep 08:00','24 Sep 00:00','24 Sep 16:00','25 Sep 08:00','26 Sep 00:00','26 Sep 16:00','27 Sep 08:00','30 Sep 01:00','30 Sep 17:00','1 Oct 09:00','2 Oct 01:00','2 Oct 17:00','3 Oct 09:00','4 Oct 01:00'][round(datum.value/16)]","labelAlign":"left","labelBaseline":"top","tickSize":4,"labelPadding":1,"labelFlush":false,"labelOverlap":false,"labelBound":false,"title":null}},
  "y":{"datum":-0.259,"type":"quantitative","scale":{"domain":[-0.2752,0.1465],"nice":false},
   "axis":{"orient":"right","values":[0.136,0,-0.257],"labelExpr":"datum.value > 0.1 ? '0.136' : (datum.value < -0.1 ? '-0.257' : '0.00')","tickSize":3,"labelPadding":1,"title":null,"labelOverlap":false,"labelFlush":false}},
  "text":{"field":"t"}}}
]
}
]
}
